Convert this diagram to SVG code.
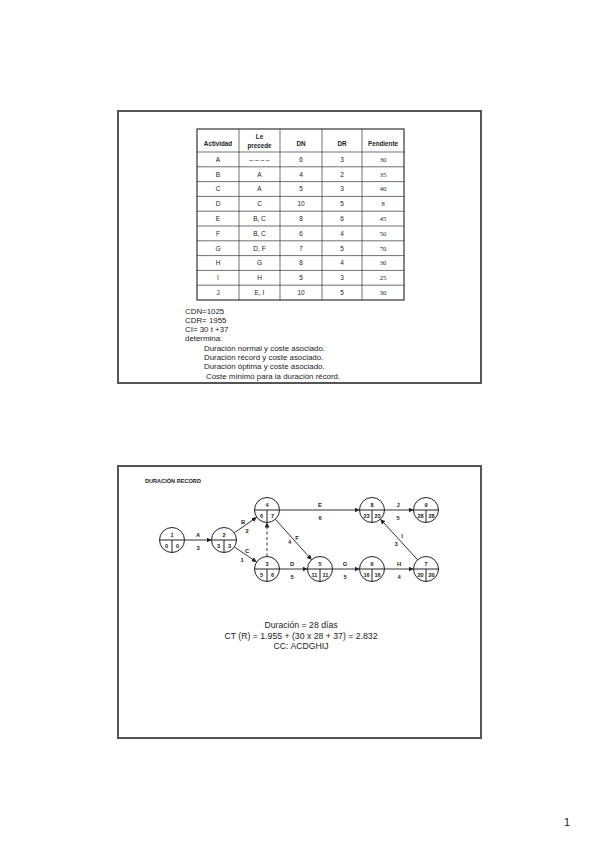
<svg xmlns="http://www.w3.org/2000/svg" width="599" height="848" viewBox="0 0 599 848">
<style>
text{font-family:"Liberation Sans",Arial,sans-serif;fill:#222}
.frame{fill:#fff;stroke:#555;stroke-width:2}
.tb{stroke:#333;stroke-width:0.7;fill:none}
.tbo{stroke:#333;stroke-width:1.2;fill:none}
.th{font-size:6.3px;font-weight:bold;text-anchor:middle}
.td{font-size:6.5px;text-anchor:middle}
.ts{font-family:"Liberation Serif","Times New Roman",serif;font-size:6.5px;text-anchor:middle}
.bt{font-size:7.9px}
.nd circle{fill:#fff;stroke:#222;stroke-width:1}
.nd line{stroke:#222;stroke-width:1}
.nd text{font-size:5.6px;font-weight:bold;text-anchor:middle}
.cn line{stroke:#333;stroke-width:1;marker-end:url(#ah)}
.cn .dash{stroke-dasharray:3,2.5}
.lb{font-size:5.8px;font-weight:bold;text-anchor:middle}
.big{font-size:8.7px;text-anchor:middle}
</style>
<defs>
<marker id="ah" viewBox="0 0 10 10" refX="10" refY="5" markerWidth="5" markerHeight="5" orient="auto" markerUnits="userSpaceOnUse">
<path d="M0,0 L10,5 L0,10 z" fill="#222"/>
</marker>
</defs>
<rect width="599" height="848" fill="#fff"/>

<!-- Slide 1 -->
<g id="slide1">
<rect class="frame" x="118" y="111" width="363" height="272"/>
<g id="table">
<rect class="tbo" x="197" y="129" width="207" height="171"/>
<g class="tb">
<line x1="197" y1="152" x2="404" y2="152"/>
<line x1="197" y1="166.8" x2="404" y2="166.8"/>
<line x1="197" y1="181.6" x2="404" y2="181.6"/>
<line x1="197" y1="196.4" x2="404" y2="196.4"/>
<line x1="197" y1="211.2" x2="404" y2="211.2"/>
<line x1="197" y1="226" x2="404" y2="226"/>
<line x1="197" y1="240.8" x2="404" y2="240.8"/>
<line x1="197" y1="255.6" x2="404" y2="255.6"/>
<line x1="197" y1="270.4" x2="404" y2="270.4"/>
<line x1="197" y1="285.2" x2="404" y2="285.2"/>
<line x1="239" y1="129" x2="239" y2="300"/>
<line x1="280" y1="129" x2="280" y2="300"/>
<line x1="322" y1="129" x2="322" y2="300"/>
<line x1="362" y1="129" x2="362" y2="300"/>
</g>
<text class="th" x="218" y="145.5">Actividad</text>
<text class="th" x="259.5" y="139">Le</text>
<text class="th" x="259.5" y="148">precede</text>
<text class="th" x="301" y="145.5">DN</text>
<text class="th" x="342" y="145.5">DR</text>
<text class="th" x="383" y="145.5">Pendiente</text>

<g>
<text class="td" x="218" y="161.7">A</text><text class="td" x="259.5" y="161.7" fill="#666">– – – –</text><text class="td" x="301" y="161.7">6</text><text class="td" x="342" y="161.7">3</text><text class="ts" x="383" y="161.7">30</text>
<text class="td" x="218" y="176.5">B</text><text class="td" x="259.5" y="176.5">A</text><text class="td" x="301" y="176.5">4</text><text class="td" x="342" y="176.5">2</text><text class="ts" x="383" y="176.5">35</text>
<text class="td" x="218" y="191.3">C</text><text class="td" x="259.5" y="191.3">A</text><text class="td" x="301" y="191.3">5</text><text class="td" x="342" y="191.3">3</text><text class="ts" x="383" y="191.3">40</text>
<text class="td" x="218" y="206.1">D</text><text class="td" x="259.5" y="206.1">C</text><text class="td" x="301" y="206.1">10</text><text class="td" x="342" y="206.1">5</text><text class="ts" x="383" y="206.1">8</text>
<text class="td" x="218" y="220.9">E</text><text class="td" x="259.5" y="220.9">B, C</text><text class="td" x="301" y="220.9">8</text><text class="td" x="342" y="220.9">6</text><text class="ts" x="383" y="220.9">45</text>
<text class="td" x="218" y="235.7">F</text><text class="td" x="259.5" y="235.7">B, C</text><text class="td" x="301" y="235.7">6</text><text class="td" x="342" y="235.7">4</text><text class="ts" x="383" y="235.7">50</text>
<text class="td" x="218" y="250.5">G</text><text class="td" x="259.5" y="250.5">D, F</text><text class="td" x="301" y="250.5">7</text><text class="td" x="342" y="250.5">5</text><text class="ts" x="383" y="250.5">70</text>
<text class="td" x="218" y="265.3">H</text><text class="td" x="259.5" y="265.3">G</text><text class="td" x="301" y="265.3">8</text><text class="td" x="342" y="265.3">4</text><text class="ts" x="383" y="265.3">30</text>
<text class="td" x="218" y="280.1">I</text><text class="td" x="259.5" y="280.1">H</text><text class="td" x="301" y="280.1">5</text><text class="td" x="342" y="280.1">3</text><text class="ts" x="383" y="280.1">25</text>
<text class="td" x="218" y="294.9">J</text><text class="td" x="259.5" y="294.9">E, I</text><text class="td" x="301" y="294.9">10</text><text class="td" x="342" y="294.9">5</text><text class="ts" x="383" y="294.9">30</text>
</g>
</g>
<g id="notes">
<text class="bt" x="185" y="313.5">CDN=1025</text>
<text class="bt" x="185" y="322.8">CDR= 1955</text>
<text class="bt" x="185" y="332.1">CI= 30 t +37</text>
<text class="bt" x="185" y="341.4">determina:</text>
<text class="bt" x="204" y="350.7">Duración normal y coste asociado.</text>
<text class="bt" x="204" y="360">Duración récord y coste asociado.</text>
<text class="bt" x="204" y="369.3">Duración óptima y coste asociado.</text>
<text class="bt" x="206" y="378.6">Coste mínimo para la duración récord.</text>
</g>
</g>

<!-- Slide 2 -->
<g id="slide2">
<rect class="frame" x="118" y="466" width="363" height="272"/>
<text x="145" y="483" style="font-size:5.6px;font-weight:bold">DURACIÓN RECORD</text>

<g id="connectors" class="cn">
<line x1="184.5" y1="540" x2="211.5" y2="540"/>
<line x1="234.3" y1="532.8" x2="256.7" y2="517.2"/>
<line x1="234.4" y1="547" x2="256.6" y2="562"/>
<line class="dash" x1="267" y1="556.5" x2="267" y2="522.5"/>
<line x1="279.5" y1="510" x2="359.5" y2="510"/>
<line x1="384.5" y1="510" x2="413.5" y2="510"/>
<line x1="275.4" y1="519.3" x2="311.6" y2="559.7"/>
<line x1="279.5" y1="569" x2="307.5" y2="569"/>
<line x1="332.5" y1="569" x2="359.5" y2="569"/>
<line x1="384.5" y1="569" x2="413.5" y2="569"/>
<line x1="417.6" y1="559.8" x2="380.4" y2="519.2"/>
</g>
<g id="labels">
<text class="lb" x="198" y="537">A</text><text class="lb" x="198" y="549.5">3</text>
<text class="lb" x="243" y="523.5">B</text><text class="lb" x="247" y="533">2</text>
<text class="lb" x="247" y="553">C</text><text class="lb" x="242" y="562">1</text>
<text class="lb" x="320" y="507">E</text><text class="lb" x="320" y="520">6</text>
<text class="lb" x="398" y="507">J</text><text class="lb" x="398" y="520">5</text>
<text class="lb" x="297" y="540">F</text><text class="lb" x="289.5" y="544">4</text>
<text class="lb" x="292" y="566">D</text><text class="lb" x="292" y="579">5</text>
<text class="lb" x="345" y="566">G</text><text class="lb" x="345" y="579">5</text>
<text class="lb" x="399" y="566">H</text><text class="lb" x="399" y="579">4</text>
<text class="lb" x="402" y="538">I</text><text class="lb" x="396" y="546">3</text>
</g>

<g id="n1" class="nd" transform="translate(172,540)"><circle r="12.5"/><line x1="-12.5" y1="0" x2="12.5" y2="0"/><line x1="0" y1="0" x2="0" y2="12.5"/><text x="0" y="-3.5">1</text><text x="-5.5" y="8">0</text><text x="5.5" y="8">0</text></g>
<g id="n2" class="nd" transform="translate(224,540)"><circle r="12.5"/><line x1="-12.5" y1="0" x2="12.5" y2="0"/><line x1="0" y1="0" x2="0" y2="12.5"/><text x="0" y="-3.5">2</text><text x="-5.5" y="8">3</text><text x="5.5" y="8">3</text></g>
<g id="n4" class="nd" transform="translate(267,510)"><circle r="12.5"/><line x1="-12.5" y1="0" x2="12.5" y2="0"/><line x1="0" y1="0" x2="0" y2="12.5"/><text x="0" y="-3.5">4</text><text x="-5.5" y="8">6</text><text x="5.5" y="8">7</text></g>
<g id="n3" class="nd" transform="translate(267,569)"><circle r="12.5"/><line x1="-12.5" y1="0" x2="12.5" y2="0"/><line x1="0" y1="0" x2="0" y2="12.5"/><text x="0" y="-3.5">3</text><text x="-5.5" y="8">5</text><text x="5.5" y="8">6</text></g>
<g id="n5" class="nd" transform="translate(320,569)"><circle r="12.5"/><line x1="-12.5" y1="0" x2="12.5" y2="0"/><line x1="0" y1="0" x2="0" y2="12.5"/><text x="0" y="-3.5">5</text><text x="-5.5" y="8">11</text><text x="5.5" y="8">11</text></g>
<g id="n6" class="nd" transform="translate(372,569)"><circle r="12.5"/><line x1="-12.5" y1="0" x2="12.5" y2="0"/><line x1="0" y1="0" x2="0" y2="12.5"/><text x="0" y="-3.5">6</text><text x="-5.5" y="8">16</text><text x="5.5" y="8">16</text></g>
<g id="n7" class="nd" transform="translate(426,569)"><circle r="12.5"/><line x1="-12.5" y1="0" x2="12.5" y2="0"/><line x1="0" y1="0" x2="0" y2="12.5"/><text x="0" y="-3.5">7</text><text x="-5.5" y="8">20</text><text x="5.5" y="8">20</text></g>
<g id="n8" class="nd" transform="translate(372,510)"><circle r="12.5"/><line x1="-12.5" y1="0" x2="12.5" y2="0"/><line x1="0" y1="0" x2="0" y2="12.5"/><text x="0" y="-3.5">8</text><text x="-5.5" y="8">23</text><text x="5.5" y="8">23</text></g>
<g id="n9" class="nd" transform="translate(426,510)"><circle r="12.5"/><line x1="-12.5" y1="0" x2="12.5" y2="0"/><line x1="0" y1="0" x2="0" y2="12.5"/><text x="0" y="-3.5">9</text><text x="-5.5" y="8">28</text><text x="5.5" y="8">28</text></g>

<text class="big" x="301" y="628">Duración = 28 días</text>
<text class="big" x="301" y="638.5">CT (R) = 1.955 + (30 x 28 + 37) = 2.832</text>
<text class="big" x="301" y="649">CC:  ACDGHIJ</text>
</g>

<text x="567" y="826" style="font-size:11px;text-anchor:middle">1</text>
</svg>
